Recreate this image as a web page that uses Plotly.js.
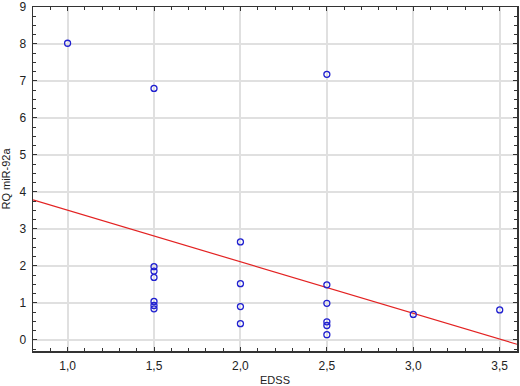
<!DOCTYPE html>
<html>
<head>
<meta charset="utf-8">
<script src="https://cdn.plot.ly/plotly-3.0.1.min.js"></script>
<style>
  html, body { margin: 0; padding: 0; background: #fff; }
  #chart { width: 520px; height: 386px; }
</style>
</head>
<body>
<div id="chart"></div>
<script>
// EDSS score per patient
const edss = [1.0, 1.5, 1.5, 1.5, 1.5, 1.5, 1.5, 1.5, 2.0, 2.0, 2.0, 2.0, 2.5, 2.5, 2.5, 2.5, 2.5, 2.5, 3.0, 3.5];
// RQ miR-92a per patient
const rq = [8.02, 6.80, 1.98, 1.86, 1.69, 1.04, 0.93, 0.84, 2.65, 1.52, 0.90, 0.44, 7.18, 1.49, 0.99, 0.49, 0.39, 0.14, 0.69, 0.81];
const xTicks = [1.0, 1.5, 2.0, 2.5, 3.0, 3.5];
const yTicks = [0, 1, 2, 3, 4, 5, 6, 7, 8, 9];
const xRange = [0.8, 3.6];
const yRange = [-0.3, 9];

// least-squares fit computed from the data
const n = edss.length;
const mx = edss.reduce((a, b) => a + b, 0) / n;
const my = rq.reduce((a, b) => a + b, 0) / n;
let sxy = 0, sxx = 0;
for (let i = 0; i < n; i++) { sxy += (edss[i] - mx) * (rq[i] - my); sxx += (edss[i] - mx) ** 2; }
const slope = sxy / sxx, icpt = my - slope * mx;
const fitX = xRange.slice();
const fitY = fitX.map(x => icpt + slope * x);

const traces = [
  { x: fitX, y: fitY, mode: 'lines', line: { color: '#e32222', width: 1.2 }, hoverinfo: 'skip' },
  { x: edss, y: rq, mode: 'markers', marker: { symbol: 'circle-open', size: 6, color: '#2020d0', line: { width: 1.3 } } }
];

const layout = {
  width: 520, height: 386,
  margin: { l: 33, r: 3, t: 7, b: 35 },
  paper_bgcolor: '#fff', plot_bgcolor: '#fff',
  showlegend: false,
  separators: ',.',
  font: { family: 'Liberation Sans, Arial, sans-serif', size: 12, color: '#222' },
  xaxis: {
    range: xRange, tickvals: xTicks, tickformat: '.1f',
    showgrid: true, gridcolor: '#e0e0e0', gridwidth: 2, zeroline: false,
    showline: true, linecolor: '#333', linewidth: 1.5, mirror: 'allticks',
    ticks: 'inside', ticklen: 4, tickcolor: '#333',
    minor: { dtick: 0.1, ticks: 'inside', ticklen: 3, tickcolor: '#333', showgrid: false },
    title: { text: 'EDSS', font: { size: 11 }, standoff: 7 },
    ticklabelstandoff: 3, ticklabeloverflow: 'allow'
  },
  yaxis: {
    range: yRange, tickvals: yTicks,
    showgrid: true, gridcolor: '#e0e0e0', gridwidth: 2, zeroline: false,
    showline: true, linecolor: '#333', linewidth: 1.5, mirror: 'allticks',
    ticks: 'inside', ticklen: 4, tickcolor: '#333',
    minor: { dtick: 0.25, ticks: 'inside', ticklen: 3, tickcolor: '#333', showgrid: false },
    title: { text: 'RQ miR-92a', font: { size: 11 }, standoff: 6 },
    ticklabelstandoff: 3, ticklabeloverflow: 'allow'
  }
};

Plotly.newPlot('chart', traces, layout, { displayModeBar: false, staticPlot: true });
</script>
</body>
</html>
